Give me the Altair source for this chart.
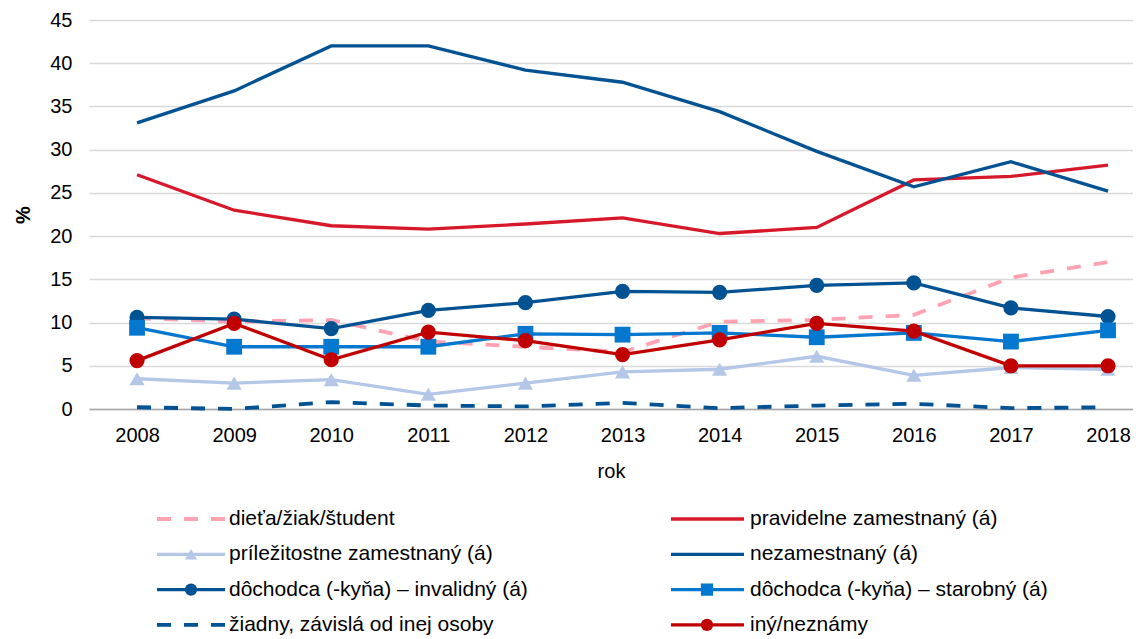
import altair as alt
import pandas as pd

# ---------------- data ----------------
years = ["2008", "2009", "2010", "2011", "2012", "2013", "2014", "2015", "2016", "2017", "2018"]

series_names = [
    "dieťa/žiak/študent",
    "pravidelne zamestnaný (á)",
    "príležitostne zamestnaný (á)",
    "nezamestnaný (á)",
    "dôchodca (-kyňa) – invalidný (á)",
    "dôchodca (-kyňa) – starobný (á)",
    "žiadny, závislá od inej osoby",
    "iný/neznámy",
]

dieta = [10.5, 10.1, 10.3, 7.8, 7.2, 6.6, 10.1, 10.3, 10.9, 15.2, 17.0]
pravidelne = [27.1, 23.0, 21.2, 20.8, 21.4, 22.1, 20.3, 21.0, 26.5, 26.9, 28.2]
prilezitostne = [3.5, 3.0, 3.4, 1.7, 3.0, 4.3, 4.6, 6.1, 3.9, 4.8, 4.6]
nezamestnany = [33.1, 36.8, 42.0, 42.0, 39.2, 37.8, 34.4, 29.8, 25.7, 28.6, 25.2]
invalidny = [10.6, 10.4, 9.3, 11.4, 12.3, 13.6, 13.5, 14.3, 14.6, 11.7, 10.7]
starobny = [9.4, 7.2, 7.2, 7.2, 8.7, 8.6, 8.8, 8.3, 8.8, 7.8, 9.1]
ziadny = [0.2, 0.0, 0.8, 0.4, 0.3, 0.7, 0.1, 0.4, 0.6, 0.1, 0.2]
iny = [5.6, 9.9, 5.7, 8.9, 7.9, 6.3, 8.0, 9.9, 9.0, 5.0, 5.0]

all_values = [dieta, pravidelne, prilezitostne, nezamestnany, invalidny, starobny, ziadny, iny]

# legend placement (column / row of each series)
legend_col = [0, 1, 0, 1, 0, 1, 0, 1]
legend_row = [0, 0, 1, 1, 2, 2, 3, 3]

# ---------------- styles ----------------
colors = ["#FFA3B3", "#D7182A", "#B4C7E7", "#005293", "#005293", "#0477CF", "#005293", "#C00000"]
dashes = [[14, 13], None, None, None, None, None, [14, 13], None]
markers = [None, None, "triangle-up", None, "circle", "square", None, "circle"]
marker_size = {"triangle-up": 230, "circle": 230, "square": 250}
legend_marker_size = {"triangle-up": 150, "circle": 150, "square": 150}

FONT = "Liberation Sans"
W = 1044
H = 389

rows = []
for name, vals in zip(series_names, all_values):
    for yr, v in zip(years, vals):
        rows.append({"rok": yr, "seria": name, "hodnota": v})
df = pd.DataFrame(rows)

x_enc = alt.X(
    "rok:O",
    sort=years,
    scale=alt.Scale(type="point", padding=0.376, align=0.658),
    axis=alt.Axis(
        title="rok", labelAngle=0, labelFontSize=20, labelColor="#000000",
        labelPadding=16, ticks=False, domainColor="#A6A6A6", domainWidth=1.3,
        grid=False, titleFontSize=20, titleFontWeight="normal", titleColor="#000000",
        titlePadding=16, labelFont=FONT, titleFont=FONT,
    ),
)
y_enc = alt.Y(
    "hodnota:Q",
    scale=alt.Scale(domain=[0, 45], nice=False),
    axis=alt.Axis(
        title="%", values=list(range(0, 50, 5)), labelFontSize=20, labelColor="#000000",
        labelPadding=17, ticks=False, domain=False, grid=True, gridColor="#D9D9D9",
        gridWidth=1.3, titleFontSize=20, titleFontWeight="bold", titleColor="#000000",
        titlePadding=16, labelFont=FONT, titleFont=FONT,
    ),
)

layers = []
for i, name in enumerate(series_names):
    base = alt.Chart(df).transform_filter(alt.datum.seria == name)
    line_kwargs = dict(color=colors[i], strokeWidth=3.3 if dashes[i] is None else 3.8)
    if dashes[i] is not None:
        line_kwargs["strokeDash"] = dashes[i]
    layers.append(base.mark_line(**line_kwargs).encode(x=x_enc, y=y_enc))
    if markers[i] is not None:
        layers.append(
            base.mark_point(
                filled=True, shape=markers[i], size=marker_size[markers[i]],
                color=colors[i], opacity=1,
            ).encode(x=x_enc, y=y_enc)
        )

main = alt.layer(*layers).properties(width=W, height=H)

# ---------------- legend ----------------
leg = pd.DataFrame({
    "seria": series_names,
    "col": legend_col,
    "row": legend_row,
})
LH = 121
ROW_STEP = 35.3
TOP_OFF = 10
leg_base = alt.Chart(leg).transform_calculate(
    x0="datum.col == 0 ? 68 : 582",
    x1="datum.col == 0 ? 136 : 655",
    xm="datum.col == 0 ? 102 : 618",
    xt="datum.col == 0 ? 140 : 661",
)
ly = alt.Y(
    "row:Q",
    scale=alt.Scale(domain=[-TOP_OFF / ROW_STEP, (LH - TOP_OFF) / ROW_STEP],
                    reverse=True, nice=False, zero=False),
    axis=None,
)
lx_scale = alt.Scale(domain=[0, W], nice=False, zero=False)

leg_layers = []
for i, name in enumerate(series_names):
    b = leg_base.transform_filter(alt.datum.seria == name)
    rk = dict(color=colors[i], strokeWidth=3.3 if dashes[i] is None else 3.8)
    if dashes[i] is not None:
        rk["strokeDash"] = dashes[i]
    leg_layers.append(
        b.mark_rule(**rk).encode(
            x=alt.X("x0:Q", scale=lx_scale, axis=None), x2="x1:Q", y=ly
        )
    )
    if markers[i] is not None:
        leg_layers.append(
            b.mark_point(
                filled=True, shape=markers[i], size=legend_marker_size[markers[i]],
                color=colors[i], opacity=1,
            ).encode(x=alt.X("xm:Q", scale=lx_scale, axis=None), y=ly)
        )
leg_layers.append(
    leg_base.mark_text(
        align="left", baseline="middle", fontSize=21, font=FONT, color="#000000"
    ).encode(x=alt.X("xt:Q", scale=lx_scale, axis=None), y=ly, text="seria:N")
)
legend = alt.layer(*leg_layers).properties(width=W, height=LH)

chart = (
    alt.vconcat(main, legend, spacing=26)
    .properties(padding={"left": 5, "top": 2, "right": 0, "bottom": 0})
    .configure(font=FONT)
    .configure_view(stroke=None, strokeWidth=0)
)

chart.save("out.html", embed_options={"renderer": "svg", "actions": False})
